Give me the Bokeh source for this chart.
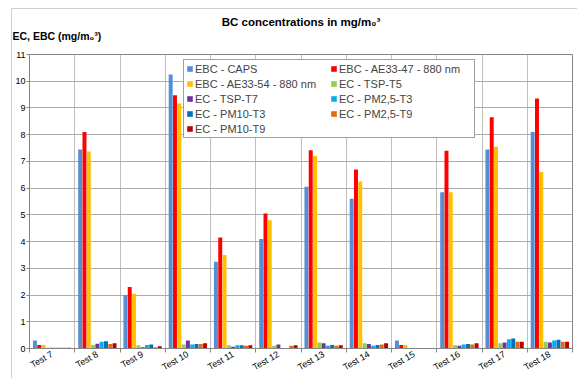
from bokeh.plotting import figure
from bokeh.models import (ColumnDataSource, FixedTicker, Legend, LegendItem, Title,
                          Range1d)
from bokeh.transform import dodge
from bokeh.embed import file_html
from bokeh.resources import INLINE
import math

tests = ["Test 7", "Test 8", "Test 9", "Test 10", "Test 11", "Test 12",
         "Test 13", "Test 14", "Test 15", "Test 16", "Test 17", "Test 18"]

ebc_caps      = [0.30, 7.45, 2.00, 10.25, 3.25, 4.10, 6.05, 5.60, 0.30, 5.85, 7.45, 8.10]
ebc_ae33_47   = [0.13, 8.10, 2.30, 9.48, 4.15, 5.05, 7.42, 6.70, 0.13, 7.40, 8.65, 9.35]
ebc_ae33_54   = [0.13, 7.37, 2.05, 9.17, 3.50, 4.80, 7.20, 6.25, 0.13, 5.85, 7.55, 6.60]
ec_tsp_t5     = [0.03, 0.13, 0.12, 0.15, 0.12, 0.10, 0.22, 0.20, 0.02, 0.12, 0.20, 0.25]
ec_tsp_t7     = [0.03, 0.18, 0.05, 0.30, 0.07, 0.15, 0.20, 0.17, 0.02, 0.10, 0.22, 0.22]
ec_pm25_t3    = [0.03, 0.25, 0.13, 0.15, 0.12, 0.00, 0.10, 0.10, 0.02, 0.15, 0.35, 0.30]
ec_pm10_t3    = [0.03, 0.27, 0.15, 0.17, 0.12, 0.00, 0.13, 0.13, 0.02, 0.17, 0.37, 0.33]
ec_pm25_t9    = [0.03, 0.17, 0.05, 0.17, 0.10, 0.10, 0.10, 0.15, 0.02, 0.15, 0.25, 0.25]
ec_pm10_t9    = [0.03, 0.20, 0.08, 0.20, 0.12, 0.12, 0.12, 0.20, 0.02, 0.20, 0.25, 0.25]

series_names = ["EBC - CAPS", "EBC - AE33-47 - 880 nm", "EBC - AE33-54 - 880 nm",
                "EC - TSP-T5", "EC - TSP-T7", "EC - PM2,5-T3", "EC - PM10-T3",
                "EC - PM2,5-T9", "EC - PM10-T9"]
series_values = [ebc_caps, ebc_ae33_47, ebc_ae33_54, ec_tsp_t5, ec_tsp_t7,
                 ec_pm25_t3, ec_pm10_t3, ec_pm25_t9, ec_pm10_t9]
colors = ["#558ED5", "#FF0000", "#FFC000", "#92D050", "#7030A0",
          "#00B0F0", "#0070C0", "#E36C09", "#C00000"]
y_ticks = list(range(0, 12))

title_text = "BC concentrations in mg/m\u2080\u00b3"
ylabel_text = "EC, EBC (mg/m\u2080\u00b3)"

FONT = "Liberation Sans"

centers = [i + 0.5 for i in range(len(tests))]
data = {"x": centers}
for k, vals in enumerate(series_values):
    data[f"s{k}"] = vals
source = ColumnDataSource(data)

p = figure(width=566, height=370, output_backend="svg", toolbar_location=None,
           x_range=Range1d(0, len(tests)), y_range=Range1d(0, 11),
           min_border_left=17, min_border_right=6, min_border_top=45,
           min_border_bottom=10, title=None)
p.styles = {"margin-left": "11px", "margin-top": "8px",
            "border-left": "1px solid #D0D0D0", "border-top": "1px solid #D0D0D0"}

bw = 0.095
renderers = []
for k in range(len(series_values)):
    r = p.vbar(x=dodge("x", (k - 4) * bw, range=p.x_range), top=f"s{k}",
               width=bw * 0.92, source=source, color=colors[k], line_color=None)
    renderers.append(r)

# titles (a blank spacer line keeps the y caption clear of the frame)
spacer = Title(text=" ", text_font=FONT, text_font_size="10px", standoff=0)
yl = Title(text=ylabel_text, align="left", offset=-17,
           text_font=FONT, text_font_size="10.5px", text_font_style="bold",
           text_color="#000000", standoff=0)
tt = Title(text=title_text, align="center",
           text_font=FONT, text_font_size="11.5px", text_font_style="bold",
           text_color="#000000", standoff=0)
p.add_layout(spacer, "above")
p.add_layout(yl, "above")
p.add_layout(tt, "above")

# axes
p.xaxis.ticker = FixedTicker(ticks=centers, minor_ticks=list(range(len(tests) + 1)))
p.xaxis.major_label_overrides = {c: t for c, t in zip(centers, tests)}
p.xaxis.major_label_orientation = math.pi / 6
p.xaxis.major_tick_out = 0
p.xaxis.major_tick_in = 0
p.xaxis.minor_tick_out = 4
p.xaxis.minor_tick_in = 0
p.xaxis.major_label_standoff = 1
p.yaxis.ticker = FixedTicker(ticks=y_ticks)
p.yaxis.major_tick_out = 3
p.yaxis.major_tick_in = 0
p.yaxis.minor_tick_line_color = None
p.yaxis.major_label_standoff = 1
for ax in (p.xaxis, p.yaxis):
    ax.axis_line_color = "#868686"
    ax.major_tick_line_color = "#868686"
    ax.minor_tick_line_color = "#868686"
    ax.major_label_text_font = FONT
    ax.major_label_text_font_size = "9px"
    ax.major_label_text_color = "#000000"
p.yaxis.minor_tick_line_color = None

p.xgrid.ticker = FixedTicker(ticks=list(range(len(tests) + 1)))
p.xgrid.grid_line_color = "#BFBFBF"
p.ygrid.ticker = FixedTicker(ticks=y_ticks)
p.ygrid.grid_line_color = "#ABABAB"
p.outline_line_color = "#868686"

# legend (column-major ordering for 2 columns, 5 rows)
order = [0, 2, 4, 6, 8, 1, 3, 5, 7]
items = [LegendItem(label=series_names[k], renderers=[renderers[k]]) for k in order]
legend = Legend(items=items, ncols=2, location=(154, 210), margin=0,
                label_text_font=FONT, label_text_font_size="11px",
                label_height=13, label_width=133, glyph_width=7, glyph_height=7,
                label_standoff=2, spacing=2, padding=2,
                border_line_color="#404040", border_line_width=1,
                background_fill_color="white", background_fill_alpha=1)
p.add_layout(legend, "center")

open("out.html", "w").write(file_html(p, INLINE))
